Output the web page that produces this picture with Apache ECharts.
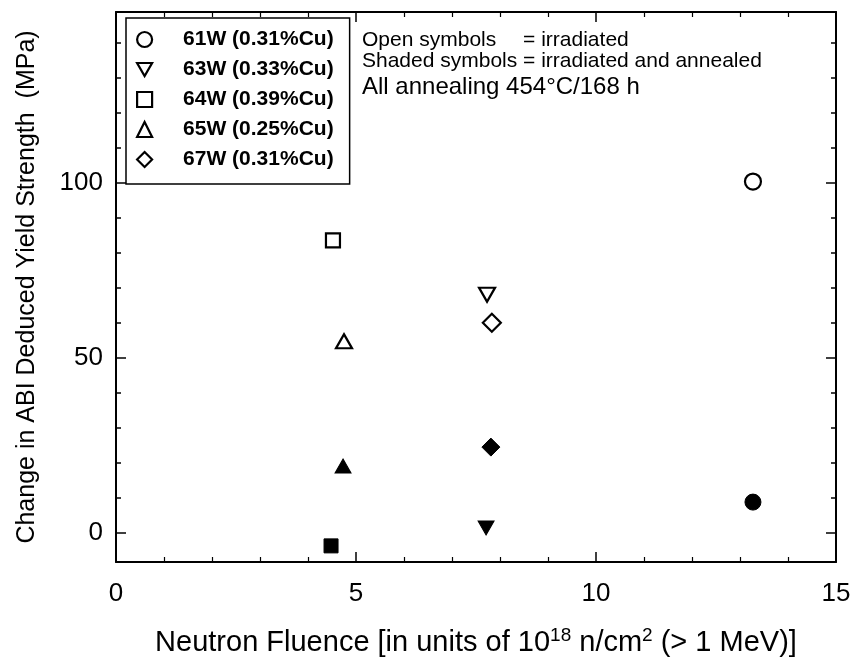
<!DOCTYPE html>
<html>
<head>
<meta charset="utf-8">
<script src="https://cdn.jsdelivr.net/npm/echarts@6/dist/echarts.min.js"></script>
<style>
  html, body { margin: 0; padding: 0; background: #fff; }
  #chart { width: 855px; height: 662px; }
</style>
</head>
<body>
<div id="chart"></div>
<script>
// samples and their symbols
const samples = ['61W (0.31%Cu)', '63W (0.33%Cu)', '64W (0.39%Cu)', '65W (0.25%Cu)', '67W (0.31%Cu)']
const symbols = ['circle', 'path://M0,0L10,0L5,8.66Z', 'rect', 'triangle', 'diamond']
const symbolSizes = [16, [16, 14], 14, [16, 14], 18]

// open symbols = irradiated
const fluenceIrr = [13.27, 7.73, 4.52, 4.75, 7.83]
const dysIrr = [100.3, 68, 83.5, 54.7, 60]
// shaded symbols = irradiated and annealed
const fluenceAnn = [13.27, 7.71, 4.48, 4.73, 7.81]
const dysAnn = [8.8, 1.4, -3.7, 19.1, 24.5]

const yMajor = [0, 50, 100]
const yMinor = [10, 20, 30, 40, 60, 70, 80, 90, 110, 120, 130, 140]
const yMin = -8.3
const yMax = 148.7

const FONT = "'Liberation Sans', Arial, sans-serif"
const black = '#000'

const chart = echarts.init(document.getElementById('chart'))

// width of "Shaded symbols " so the "=" signs line up
const ctx = document.createElement('canvas').getContext('2d')
ctx.font = "21px 'Liberation Sans'"
const eqOffset = ctx.measureText('Shaded symbols ').width

const xCommon = {
  type: 'value',
  min: 0,
  max: 15,
  interval: 5,
  axisLine: { show: true, onZero: false, lineStyle: { color: black, width: 2 } },
  axisTick: { show: true, inside: true, length: 10, lineStyle: { color: black, width: 1.5 } },
  minorTick: { show: true, splitNumber: 5, length: 5, lineStyle: { color: black, width: 1.2 } },
  splitLine: { show: false }
}

const yBase = (position, values, len, showLine) => ({
  type: 'value',
  position,
  min: yMin,
  max: yMax,
  axisLine: { show: showLine, onZero: false, lineStyle: { color: black, width: 2 } },
  axisTick: { show: true, inside: true, length: len, customValues: values, lineStyle: { color: black, width: 1.5 } },
  axisLabel: { show: false },
  splitLine: { show: false }
})

const yLeft = yBase('left', yMajor, 10, true)
yLeft.axisLabel = {
  show: true,
  customValues: yMajor,
  margin: 13,
  color: black,
  fontSize: 26,
  fontFamily: FONT
}
yLeft.name = 'Change in ABI Deduced Yield Strength  (MPa)'
yLeft.nameLocation = 'middle'
yLeft.nameGap = 76
yLeft.nameTextStyle = { color: black, fontSize: 25, fontFamily: FONT }

const series = []
samples.forEach((name, i) => {
  series.push({
    name,
    type: 'scatter',
    symbol: symbols[i],
    symbolSize: symbolSizes[i],
    itemStyle: { color: '#fff', borderColor: black, borderWidth: 2.2, opacity: 1 },
    data: [[fluenceIrr[i], dysIrr[i]]],
    z: 3
  })
})
samples.forEach((name, i) => {
  series.push({
    name: name + ' annealed',
    type: 'scatter',
    symbol: symbols[i],
    symbolSize: symbolSizes[i],
    itemStyle: { color: black, borderColor: black, borderWidth: 1, opacity: 1 },
    data: [[fluenceAnn[i], dysAnn[i]]],
    z: 3
  })
})

chart.setOption({
  animation: false,
  backgroundColor: '#fff',
  grid: { left: 116, right: 19, top: 12, bottom: 99 },
  xAxis: [
    Object.assign({}, xCommon, {
      position: 'bottom',
      axisLabel: { color: black, fontSize: 26, fontFamily: FONT, margin: 19 },
      name: '{a|Neutron Fluence [in units of 10}{s|18}{a| n/cm}{s|2}{a| (> 1 MeV)]}',
      nameLocation: 'middle',
      nameGap: 64,
      nameTextStyle: {
        rich: {
          a: { color: black, fontSize: 29, fontFamily: FONT },
          s: { color: black, fontSize: 19, fontFamily: FONT, padding: [0, 0, 14, 0] }
        }
      }
    }),
    Object.assign({}, xCommon, { position: 'top', axisLabel: { show: false } })
  ],
  yAxis: [
    yLeft,
    yBase('left', yMinor, 5, false),
    yBase('right', yMajor, 10, true),
    yBase('right', yMinor, 5, false)
  ],
  legend: {
    orient: 'vertical',
    left: 126,
    top: 18,
    padding: [11, 16, 14, 10],
    itemWidth: 15,
    itemHeight: 15,
    itemGap: 9,
    borderColor: black,
    borderWidth: 1.5,
    backgroundColor: '#fff',
    selectedMode: false,
    itemStyle: { color: '#fff', borderColor: black, borderWidth: 2.2 },
    textStyle: {
      color: black,
      fontSize: 21,
      fontWeight: 'bold',
      fontFamily: FONT,
      lineHeight: 21,
      padding: [0, 0, 0, 26]
    },
    data: samples.map((n, i) => ({ name: n, icon: symbols[i] }))
  },
  graphic: [
    {
      type: 'text', x: 362, y: 40,
      style: { text: 'Open symbols', font: "21px 'Liberation Sans'", fill: black, align: 'left', verticalAlign: 'middle' }
    },
    {
      type: 'text', x: 362 + eqOffset, y: 40,
      style: { text: '= irradiated', font: "21px 'Liberation Sans'", fill: black, align: 'left', verticalAlign: 'middle' }
    },
    {
      type: 'text', x: 362, y: 61,
      style: { text: 'Shaded symbols = irradiated and annealed', font: "21px 'Liberation Sans'", fill: black, align: 'left', verticalAlign: 'middle' }
    },
    {
      type: 'text', x: 362, y: 87,
      style: { text: 'All annealing 454°C/168 h', font: "24px 'Liberation Sans'", fill: black, align: 'left', verticalAlign: 'middle' }
    }
  ],
  series
})
</script>
</body>
</html>
